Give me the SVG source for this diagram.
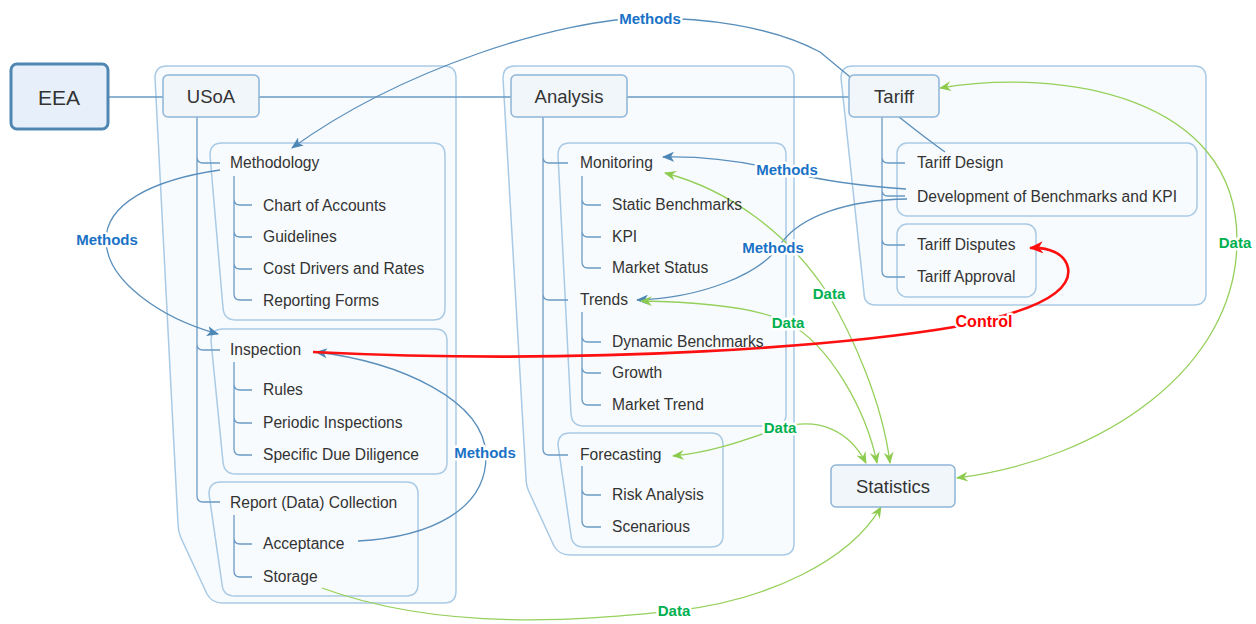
<svg xmlns="http://www.w3.org/2000/svg" width="1256" height="624" viewBox="0 0 1256 624">
<style>
.bnd{fill:#f8fbfe;stroke:#a9cae5;stroke-width:1.5}
.tree{fill:none;stroke:#6b9ac4;stroke-width:1.3}
.rel{fill:none;stroke:#5a8fbb;stroke-width:1.3}
.dat{fill:none;stroke:#95d05a;stroke-width:1.3}
.ctl{fill:none;stroke:#ff1010;stroke-width:2.6}
.box{fill:#f1f6fb;stroke:#8fb5d6;stroke-width:1.5}
.t{font-family:"Liberation Sans",Arial,sans-serif;font-size:15.6px;fill:#333}
.big{font-family:"Liberation Sans",Arial,sans-serif;font-size:18.5px;fill:#333;text-anchor:middle}
.lbl{font-family:"Liberation Sans",Arial,sans-serif;font-size:15px;font-weight:bold;text-anchor:middle;paint-order:stroke;stroke:#fff;stroke-width:5px;stroke-linejoin:round}
.lm{fill:#1a72c6}
.ld{fill:#00b050}
.lc{fill:#ff0000;font-size:16px}
</style>
<defs>
<marker id="aB" viewBox="0 0 12 10" refX="11" refY="5" markerWidth="12" markerHeight="10" markerUnits="userSpaceOnUse" orient="auto-start-reverse"><path d="M0,0 L12,5 L0,10 L3,5 Z" fill="#4d87b6"/></marker>
<marker id="aG" viewBox="0 0 12 10" refX="11" refY="5" markerWidth="12" markerHeight="10" markerUnits="userSpaceOnUse" orient="auto-start-reverse"><path d="M0,0 L12,5 L0,10 L4,5 Z" fill="#8ccb4e"/></marker>
<marker id="aR" viewBox="0 0 14 12" refX="13" refY="6" markerWidth="14" markerHeight="12" markerUnits="userSpaceOnUse" orient="auto"><path d="M0,0 L14,6 L0,12 L4,6 Z" fill="#ff1010"/></marker>
</defs>

<g id="boundaries">
<path class="bnd" d="M167,66 H444 Q456,66 456,78 V591 Q456,603 444,603 H222 Q212,603 207,594 L181,538 Q178,531 178,524 L155,78 Q155,66 167,66 Z"/>
<path class="bnd" d="M515,66 H782 Q794,66 794,78 V543 Q794,555 782,555 H570 Q559,555 554,546 L530,494 Q526,486 526,478 L503,78 Q503,66 515,66 Z"/>
<path class="bnd" d="M853,66 H1194 Q1206,66 1206,78 V293 Q1206,305 1194,305 H876 Q864,305 864,293 L841,78 Q841,66 853,66 Z"/>
<path class="bnd" d="M222,143 H433 Q445,143 445,155 V308 Q445,320 433,320 H236 Q224,320 223,308 L210,155 Q210,143 222,143 Z"/>
<path class="bnd" d="M223,329 H435 Q447,329 447,341 V462 Q447,474 435,474 H236 Q224,474 223,462 L211,341 Q211,329 223,329 Z"/>
<path class="bnd" d="M221,482 H406 Q418,482 418,494 V584 Q418,596 406,596 H235 Q223,596 222,584 L209,494 Q209,482 221,482 Z"/>
<path class="bnd" d="M570,143 H774 Q786,143 786,155 V414 Q786,426 774,426 H584 Q572,426 571,414 L558,155 Q558,143 570,143 Z"/>
<path class="bnd" d="M570,433 H711 Q723,433 723,445 V535 Q723,547 711,547 H584 Q572,547 571,535 L558,445 Q558,433 570,433 Z"/>
<rect class="bnd" x="897" y="143" width="300" height="73" rx="10"/>
<rect class="bnd" x="897" y="224" width="139" height="73" rx="10"/>
</g>

<g id="connectors">
<path class="tree" d="M108,97 H163 M259,97 H511 M627,97 H849"/>
<path class="tree" d="M197,117 V496 Q197,502 203,502 H220 M197,157 Q197,163 203,163 H220 M197,344 Q197,350 203,350 H220"/>
<path class="tree" d="M234,176 V294 Q234,300 240,300 H252 M234,199 Q234,205 240,205 H252 M234,231 Q234,237 240,237 H252 M234,263 Q234,269 240,269 H252"/>
<path class="tree" d="M234,362 V449 Q234,455 240,455 H252 M234,384 Q234,390 240,390 H252 M234,417 Q234,423 240,423 H252"/>
<path class="tree" d="M234,515 V571 Q234,577 240,577 H252 M234,538 Q234,544 240,544 H252"/>
<path class="tree" d="M543,117 V449 Q543,455 549,455 H568 M543,157 Q543,163 549,163 H568 M543,294 Q543,300 549,300 H568"/>
<path class="tree" d="M582,176 V262 Q582,268 588,268 H601 M582,199 Q582,205 588,205 H601 M582,231 Q582,237 588,237 H601"/>
<path class="tree" d="M582,312 V399 Q582,405 588,405 H601 M582,336 Q582,342 588,342 H601 M582,367 Q582,373 588,373 H601"/>
<path class="tree" d="M582,466 V521 Q582,527 588,527 H601 M582,489 Q582,495 588,495 H601"/>
<path class="tree" d="M882,117 V271 Q882,277 888,277 H905 M882,157 Q882,163 888,163 H905 M882,190 Q882,196 888,196 H905 M882,239 Q882,245 888,245 H905"/>

<path class="rel" marker-end="url(#aB)" d="M945,152 C900,120 860,85 820,52 C770,25 700,18 650,18 C560,18 400,70 292,148"/>
<path class="rel" marker-end="url(#aB)" d="M220,170 C150,180 106,205 106,240 C106,280 160,318 218,334"/>
<path class="rel" marker-end="url(#aB)" d="M358,541 C430,537 487,510 486,455 C484,400 400,362 316,352"/>
<path class="rel" marker-end="url(#aB)" d="M906,189 C860,186 820,180 788,172 C740,160 700,156 663,157"/>
<path class="rel" marker-end="url(#aB)" d="M907,199 C850,200 800,215 780,245 C760,275 700,298 637,300"/>

<path class="dat" marker-start="url(#aG)" marker-end="url(#aG)" d="M665,173 C730,190 790,235 828,294 C852,335 882,400 890,463"/>
<path class="dat" marker-start="url(#aG)" marker-end="url(#aG)" d="M641,301 C700,302 760,308 788,323 C830,345 866,410 877,463"/>
<path class="dat" marker-start="url(#aG)" marker-end="url(#aG)" d="M673,456 C715,452 750,438 780,428 C820,416 850,432 866,463"/>
<path class="dat" marker-start="url(#aG)" marker-end="url(#aG)" d="M940,88 C1060,68 1237,95 1237,240 C1237,370 1100,460 957,478"/>
<path class="dat" marker-end="url(#aG)" d="M322,588 C450,635 600,618 674,611 C770,600 850,560 881,507"/>

<path class="ctl" marker-end="url(#aR)" d="M313,352 C600,366 850,345 960,326 C1040,310 1072,290 1068,268 C1065,253 1048,247 1030,248"/>

<text class="lbl lm" x="650" y="24">Methods</text>
<text class="lbl lm" x="107" y="245">Methods</text>
<text class="lbl lm" x="485" y="458">Methods</text>
<text class="lbl lm" x="787" y="175">Methods</text>
<text class="lbl lm" x="773" y="253">Methods</text>
<text class="lbl ld" x="829" y="299">Data</text>
<text class="lbl ld" x="788" y="328">Data</text>
<text class="lbl ld" x="780" y="433">Data</text>
<text class="lbl ld" x="1235" y="248">Data</text>
<text class="lbl ld" x="674" y="616">Data</text>
<text class="lbl lc" x="984" y="327">Control</text>
</g>

<g id="eea"><rect x="11" y="64" width="97" height="65" rx="6" fill="#e7f0fa" stroke="#4f87b2" stroke-width="3"/><text class="big" x="59" y="105" style="font-size:21px">EEA</text></g>
<g id="usoa"><rect class="box" x="163" y="75" width="96" height="42" rx="5"/><text class="big" x="211" y="103">USoA</text></g>
<g id="analysis"><rect class="box" x="511" y="75" width="116" height="42" rx="5"/><text class="big" x="569" y="103">Analysis</text></g>
<g id="tariff"><rect class="box" x="849" y="75" width="90" height="42" rx="5"/><text class="big" x="894" y="103">Tariff</text></g>
<g id="statistics"><rect class="box" x="831" y="465" width="124" height="42" rx="5"/><text class="big" x="893" y="493">Statistics</text></g>

<g id="methodology"><text class="t" x="230" y="168">Methodology</text></g>
<g id="chart-of-accounts"><text class="t" x="263" y="211">Chart of Accounts</text></g>
<g id="guidelines"><text class="t" x="263" y="242">Guidelines</text></g>
<g id="cost-drivers"><text class="t" x="263" y="274">Cost Drivers and Rates</text></g>
<g id="reporting-forms"><text class="t" x="263" y="306">Reporting Forms</text></g>
<g id="inspection"><text class="t" x="230" y="355">Inspection</text></g>
<g id="rules"><text class="t" x="263" y="395">Rules</text></g>
<g id="periodic"><text class="t" x="263" y="428">Periodic Inspections</text></g>
<g id="due-diligence"><text class="t" x="263" y="460">Specific Due Diligence</text></g>
<g id="report"><text class="t" x="230" y="508">Report (Data) Collection</text></g>
<g id="acceptance"><text class="t" x="263" y="549">Acceptance</text></g>
<g id="storage"><text class="t" x="263" y="582">Storage</text></g>

<g id="monitoring"><text class="t" x="580" y="168">Monitoring</text></g>
<g id="static-benchmarks"><text class="t" x="612" y="210">Static Benchmarks</text></g>
<g id="kpi"><text class="t" x="612" y="242">KPI</text></g>
<g id="market-status"><text class="t" x="612" y="273">Market Status</text></g>
<g id="trends"><text class="t" x="580" y="305">Trends</text></g>
<g id="dynamic-benchmarks"><text class="t" x="612" y="347">Dynamic Benchmarks</text></g>
<g id="growth"><text class="t" x="612" y="378">Growth</text></g>
<g id="market-trend"><text class="t" x="612" y="410">Market Trend</text></g>
<g id="forecasting"><text class="t" x="580" y="460">Forecasting</text></g>
<g id="risk-analysis"><text class="t" x="612" y="500">Risk Analysis</text></g>
<g id="scenarious"><text class="t" x="612" y="532">Scenarious</text></g>

<g id="tariff-design"><text class="t" x="917" y="168">Tariff Design</text></g>
<g id="development"><text class="t" x="917" y="202">Development of Benchmarks and KPI</text></g>
<g id="tariff-disputes"><text class="t" x="917" y="250">Tariff Disputes</text></g>
<g id="tariff-approval"><text class="t" x="917" y="282">Tariff Approval</text></g>
</svg>
